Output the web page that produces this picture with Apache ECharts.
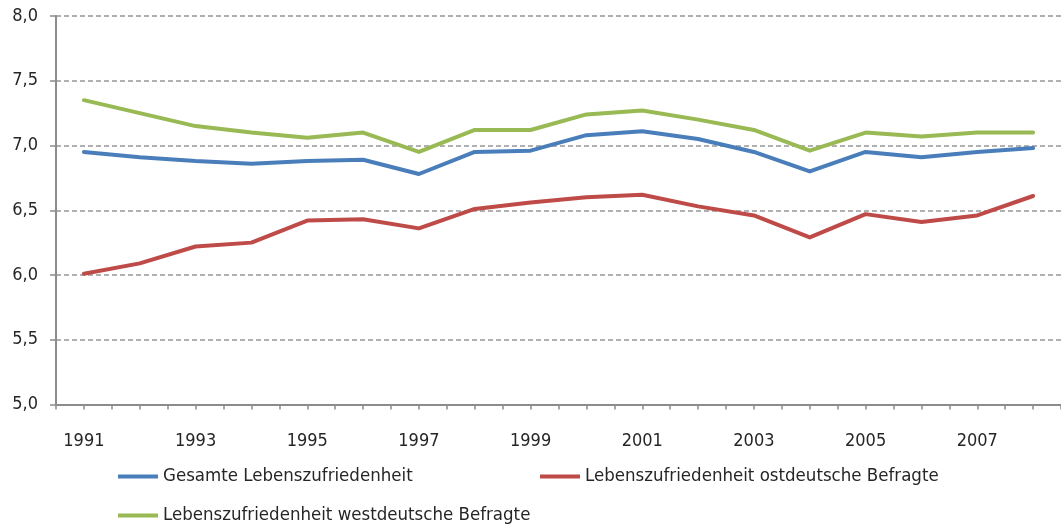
<!DOCTYPE html>
<html>
<head>
<meta charset="utf-8">
<script src="https://cdn.jsdelivr.net/npm/echarts@6/dist/echarts.min.js"></script>
<style>
html,body{margin:0;padding:0;background:#fff;}
#chart{width:1061px;height:525px;}
</style>
</head>
<body>
<div id="chart"></div>
<script>
const years = ['1991','1992','1993','1994','1995','1996','1997','1998','1999','2000','2001','2002','2003','2004','2005','2006','2007','2008'];
const gesamt = [6.95,6.91,6.88,6.86,6.88,6.89,6.78,6.95,6.96,7.08,7.11,7.05,6.95,6.80,6.95,6.91,6.95,6.98];
const ost    = [6.01,6.09,6.22,6.25,6.42,6.43,6.36,6.51,6.56,6.60,6.62,6.53,6.46,6.29,6.47,6.41,6.46,6.61];
const west   = [7.35,7.25,7.15,7.10,7.06,7.10,6.95,7.12,7.12,7.24,7.27,7.20,7.12,6.96,7.10,7.07,7.10,7.10];
const seriesNames = ['Gesamte Lebenszufriedenheit','Lebenszufriedenheit ostdeutsche Befragte','Lebenszufriedenheit westdeutsche Befragte'];
const yMin = 5, yMax = 8, yStep = 0.5;

const FONT = "'Liberation Sans Narrow','DejaVu Sans Condensed','Liberation Sans',sans-serif";
const colors = ['#4A7EBB','#BE4B48','#98B954'];
const axisGray = '#8C8C8C';

const chart = echarts.init(document.getElementById('chart'), null, {renderer:'canvas'});
function legendFor(i, left, top){
  return {
    data:[seriesNames[i]], left:left, top:top, icon:'rect', itemWidth:40, itemHeight:4,
    textStyle:{fontFamily:FONT, fontSize:18.5, color:'#262626'}, padding:0, selectedMode:false
  };
}
chart.setOption({
  animation:false,
  color:colors,
  grid:{left:56, top:16, width:1012, height:388.5, containLabel:false},
  legend:[legendFor(0,118,467), legendFor(1,540,467), legendFor(2,118,506)],
  xAxis:[{
    type:'category', data:years, boundaryGap:true,
    axisLine:{lineStyle:{color:axisGray, width:2}},
    axisTick:{show:true, interval:0, length:5, lineStyle:{color:axisGray, width:1.5}},
    axisLabel:{interval:1, margin:28, fontFamily:FONT, fontSize:18, color:'#262626'},
    splitLine:{show:false}
  },{
    type:'category', data:years, boundaryGap:true, position:'bottom',
    axisLine:{show:false},
    axisTick:{show:true, alignWithLabel:true, interval:0, length:5, lineStyle:{color:axisGray, width:1.5}},
    axisLabel:{show:false}, splitLine:{show:false}
  }],
  yAxis:{
    type:'value', min:yMin, max:yMax, interval:yStep,
    axisLine:{show:true, lineStyle:{color:axisGray, width:2}},
    axisTick:{show:true, length:6, lineStyle:{color:axisGray, width:1.5}},
    axisLabel:{margin:18, fontFamily:FONT, fontSize:18, color:'#262626',
      formatter:v=>v.toFixed(1).replace('.',',')},
    splitLine:{show:true, lineStyle:{color:'#969696', width:1.5, type:[5,3]}}
  },
  series:[gesamt, ost, west].map((d,i)=>({
    name:seriesNames[i], type:'line', data:d, xAxisIndex:0,
    showSymbol:false, symbol:'none',
    lineStyle:{width:4, color:colors[i], cap:'round', join:'round'},
    itemStyle:{color:colors[i]}
  }))
});
</script>
</body>
</html>
